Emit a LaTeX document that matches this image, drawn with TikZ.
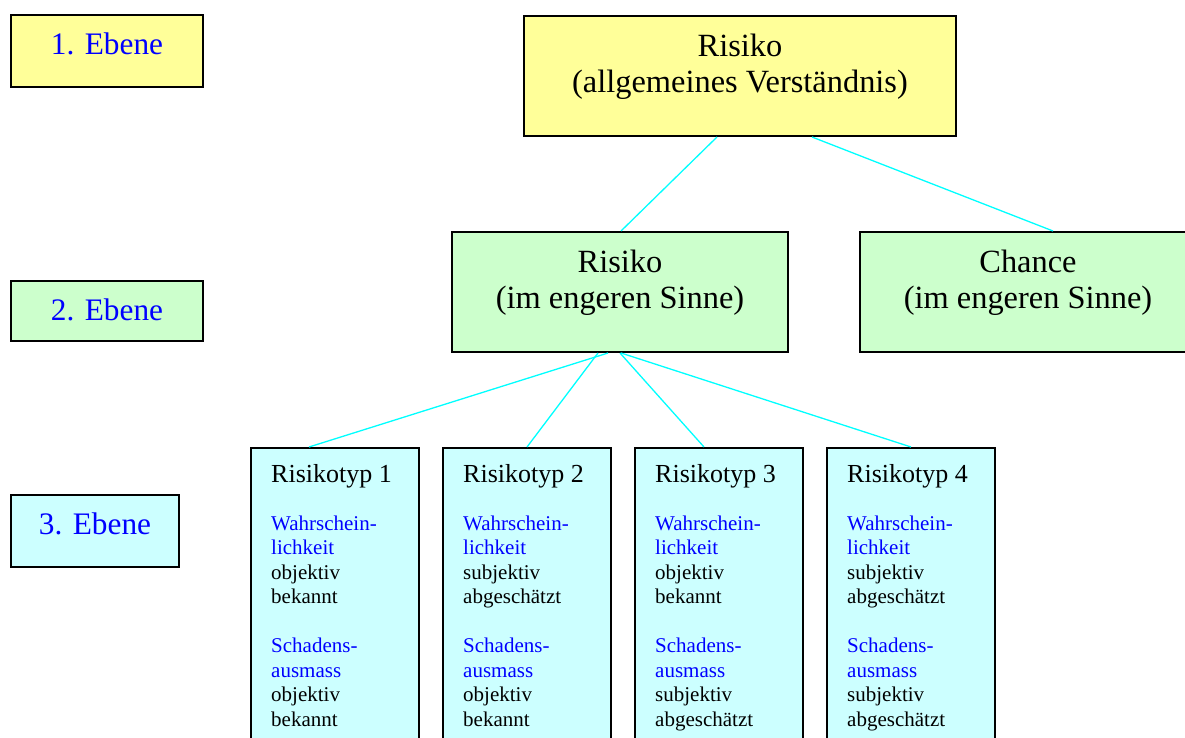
\documentclass[tikz,border=0pt]{standalone}
\usepackage{fontspec}
\setmainfont{Liberation Serif}
\definecolor{boxyellow}{RGB}{255,255,153}
\definecolor{boxgreen}{RGB}{204,255,204}
\definecolor{boxcyan}{RGB}{204,255,255}
\definecolor{linecyan}{RGB}{0,255,255}
\definecolor{txtblue}{RGB}{0,0,255}
\tikzset{
  boxbase/.style={draw=black, line width=2pt, inner sep=0pt, anchor=north west},
  ebenetxt/.style={font=\fontsize{31.3}{35}\selectfont, text=txtblue, anchor=base, inner sep=0pt},
  bigtxt/.style={font=\fontsize{32.4}{36}\selectfont, anchor=base, inner sep=0pt},
  titletxt/.style={font=\fontsize{26}{29}\selectfont, anchor=base west, inner sep=0pt},
  bodytxt/.style={font=\fontsize{21}{24.5}\selectfont, anchor=base west, inner sep=0pt},
  conn/.style={draw=linecyan, line width=1.3pt}
}
\newcommand{\rtype}[7]{%
  \node[boxbase, fill=boxcyan, minimum width=168pt, minimum height=330pt] (#1) at (#2,447) {};
  \node[titletxt] (#1t) at (#2+21,482) {#3};
  \node[bodytxt, text=txtblue] (#1a) at (#2+21,530) {Wahrschein-};
  \node[bodytxt, text=txtblue] (#1b) at (#2+21,554.5) {lichkeit};
  \node[bodytxt] (#1c) at (#2+21,579) {#4};
  \node[bodytxt] (#1d) at (#2+21,603.5) {#5};
  \node[bodytxt, text=txtblue] (#1e) at (#2+21,652.5) {Schadens-};
  \node[bodytxt, text=txtblue] (#1f) at (#2+21,677) {ausmass};
  \node[bodytxt] (#1g) at (#2+21,701.5) {#6};
  \node[bodytxt] (#1h) at (#2+21,726) {#7};
}
\begin{document}
\begin{tikzpicture}[x=1pt,y=-1pt]
\path[use as bounding box, clip] (0,0) rectangle (1185,738);
\fill[white] (0,0) rectangle (1185,738);

% level labels
\node[boxbase, fill=boxyellow, minimum width=192pt, minimum height=72pt] (e1) at (10,14) {};
\node[ebenetxt] (e1t) at (107,55) {1. Ebene};
\node[boxbase, fill=boxgreen, minimum width=192pt, minimum height=60pt] (e2) at (10,280) {};
\node[ebenetxt] (e2t) at (107,320.5) {2. Ebene};
\node[boxbase, fill=boxcyan, minimum width=168pt, minimum height=72pt] (e3) at (10,494) {};
\node[ebenetxt] (e3t) at (95,534) {3. Ebene};

% top
\node[boxbase, fill=boxyellow, minimum width=432pt, minimum height=120pt] (top) at (523,15) {};
\node[bigtxt] (topa) at (740,56.5) {Risiko};
\node[bigtxt] (topb) at (740,92.5) {(allgemeines Verständnis)};

% level 2
\node[boxbase, fill=boxgreen, minimum width=336pt, minimum height=120pt] (mid) at (451,231) {};
\node[bigtxt] (mida) at (620,272.5) {Risiko};
\node[bigtxt] (midb) at (620,308.5) {(im engeren Sinne)};
\node[boxbase, fill=boxgreen, minimum width=338pt, minimum height=120pt] (ch) at (859,231) {};
\node[bigtxt] (cha) at (1028,272.5) {Chance};
\node[bigtxt] (chb) at (1028,308.5) {(im engeren Sinne)};

% level 3
\rtype{r1}{250}{Risikotyp 1}{objektiv}{bekannt}{objektiv}{bekannt}
\rtype{r2}{442}{Risikotyp 2}{subjektiv}{abgeschätzt}{objektiv}{bekannt}
\rtype{r3}{634}{Risikotyp 3}{objektiv}{bekannt}{subjektiv}{abgeschätzt}
\rtype{r4}{826}{Risikotyp 4}{subjektiv}{abgeschätzt}{subjektiv}{abgeschätzt}

% connectors
\draw[conn] ([xshift=-23pt]top.south) -- ([xshift=1pt]mid.north);
\draw[conn] ([xshift=72pt]top.south) -- ([xshift=24pt]ch.north);
\draw[conn] ([xshift=-12pt]mid.south) -- ([xshift=-26pt]r1.north);
\draw[conn] ([xshift=-22pt]mid.south) -- ([xshift=0pt]r2.north);
\draw[conn] ([xshift=0pt]mid.south) -- ([xshift=-15pt]r3.north);
\draw[conn] ([xshift=1pt]mid.south) -- ([xshift=0pt]r4.north);
\end{tikzpicture}
\end{document}
